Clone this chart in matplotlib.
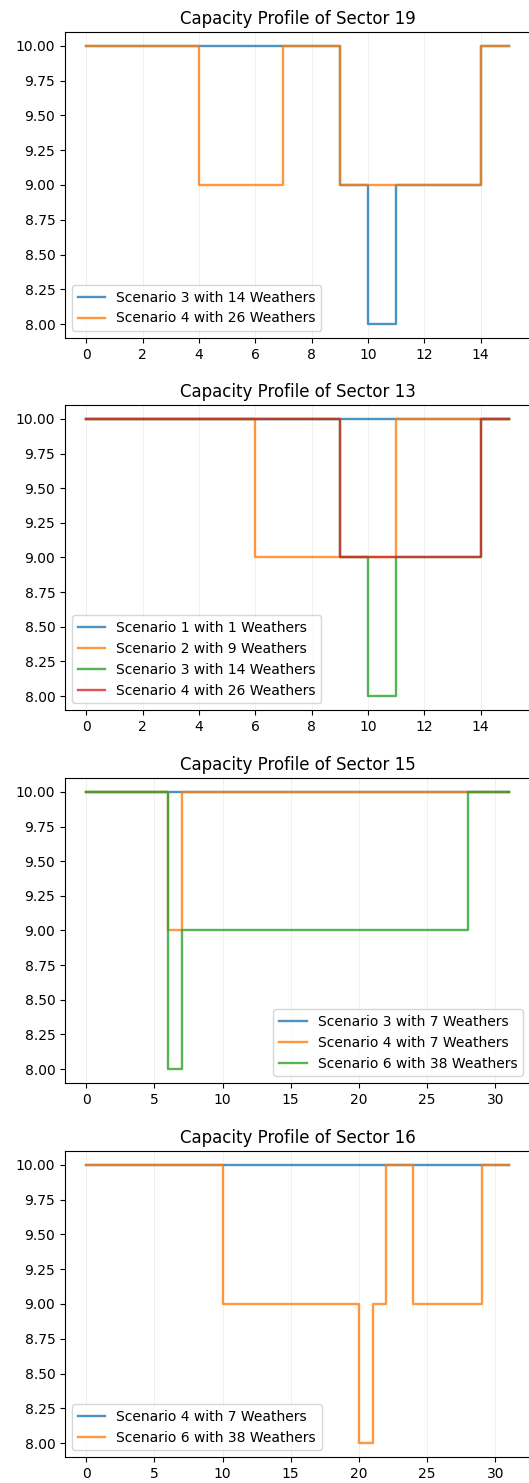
import matplotlib
matplotlib.use('Agg')
import matplotlib.pyplot as plt
import numpy as np

# time slots (step plots, value holds until next slot)
t19 = np.arange(16)
t15 = np.arange(32)

# Sector 19
s19_sc3 = [10, 10, 10, 10, 10, 10, 10, 10, 10, 9, 8, 9, 9, 9, 10, 10]
s19_sc4 = [10, 10, 10, 10, 9, 9, 9, 10, 10, 9, 9, 9, 9, 9, 10, 10]

# Sector 13
s13_sc1 = [10] * 16
s13_sc2 = [10, 10, 10, 10, 10, 10, 9, 9, 9, 9, 9, 10, 10, 10, 10, 10]
s13_sc3 = [10, 10, 10, 10, 10, 10, 10, 10, 10, 9, 8, 9, 9, 9, 10, 10]
s13_sc4 = [10, 10, 10, 10, 10, 10, 10, 10, 10, 9, 9, 9, 9, 9, 10, 10]

# Sector 15
s15_sc3 = [10] * 32
s15_sc4 = [10] * 6 + [9] + [10] * 25
s15_sc6 = [10] * 6 + [8] + [9] * 21 + [10] * 4

# Sector 16
s16_sc4 = [10] * 32
s16_sc6 = [10] * 10 + [9] * 10 + [8] + [9] + [10] * 2 + [9] * 5 + [10] * 3

panels = [
    ('Capacity Profile of Sector 19', t19,
     [(s19_sc3, 'Scenario 3 with 14 Weathers'),
      (s19_sc4, 'Scenario 4 with 26 Weathers')], 'lower left'),
    ('Capacity Profile of Sector 13', t19,
     [(s13_sc1, 'Scenario 1 with 1 Weathers'),
      (s13_sc2, 'Scenario 2 with 9 Weathers'),
      (s13_sc3, 'Scenario 3 with 14 Weathers'),
      (s13_sc4, 'Scenario 4 with 26 Weathers')], 'lower left'),
    ('Capacity Profile of Sector 15', t15,
     [(s15_sc3, 'Scenario 3 with 7 Weathers'),
      (s15_sc4, 'Scenario 4 with 7 Weathers'),
      (s15_sc6, 'Scenario 6 with 38 Weathers')], 'lower right'),
    ('Capacity Profile of Sector 16', t15,
     [(s16_sc4, 'Scenario 4 with 7 Weathers'),
      (s16_sc6, 'Scenario 6 with 38 Weathers')], 'lower left'),
]

W, H = 529, 1483
fig = plt.figure(figsize=(W / 100, H / 100), dpi=100)

# axes top / bottom in pixels
boxes = [(32, 338), (405, 710), (778, 1083), (1151, 1457)]
left_px = 65

for (title, t, series, loc), (top, bot) in zip(panels, boxes):
    ax = fig.add_axes([left_px / W, 1 - bot / H, (W - left_px + 1) / W, (bot - top) / H])
    for vals, lab in series:
        ax.plot(t, vals, drawstyle='steps-post', label=lab, linewidth=1.7, alpha=0.8)
    ax.set_ylim(7.9, 10.1)
    ax.set_yticks(np.arange(8, 10.01, 0.25))
    ax.yaxis.set_major_formatter(matplotlib.ticker.FormatStrFormatter('%.2f'))
    ax.grid(axis='x', color='#eeeeee', linewidth=0.6)
    ax.set_axisbelow(True)
    ax.set_title(title, fontsize=12)
    ax.legend(loc=loc, fontsize=10)

fig.savefig('out.png', dpi=100)
